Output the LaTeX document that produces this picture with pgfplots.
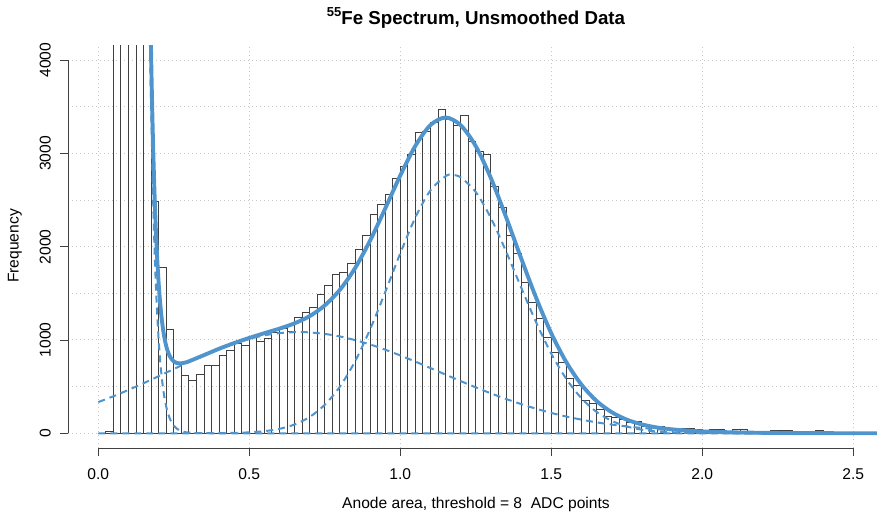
\documentclass[border=0pt]{standalone}
\usepackage{fontspec}
\setmainfont{Liberation Sans}
\usepackage{pgfplots}
\pgfplotsset{compat=1.18}
\definecolor{fitblue}{HTML}{4F94CD}
\definecolor{barline}{HTML}{404040}
\definecolor{gridgray}{HTML}{C8C8C8}
\definecolor{axisgray}{HTML}{404040}

\begin{document}
\begin{tikzpicture}
\useasboundingbox (0,0) rectangle (877pt,520pt);
\begin{axis}[
  at={(68.1pt,71.8pt)}, anchor=south west,
  scale only axis, width=815.4pt, height=403pt,
  xmin=-0.1, xmax=2.6, ymin=-160, ymax=4160,
  axis line style={draw=none},
  tick style={draw=none},
  major tick length=0pt,
  xtick={0,0.5,1,1.5,2,2.5}, ytick={0,500,...,4000},
  xticklabels={}, yticklabels={},
  grid=major,
  grid style={gridgray, line width=1pt, dash pattern=on 1.3pt off 2.7pt},
]
% histogram, bin width 0.025
\addplot[ybar interval, draw=barline, fill=none, line width=1pt] coordinates {
(0.000,0)(0.025,17)(0.050,9000)(0.075,9000)(0.100,9000)(0.125,9000)(0.150,9000)
(0.175,2482)(0.200,1779)(0.225,1116)(0.250,757)(0.275,614)(0.300,571)(0.325,632)
(0.350,725)(0.375,725)(0.400,839)(0.425,882)(0.450,964)(0.475,940)(0.500,1036)
(0.525,982)(0.550,1018)(0.575,1080)(0.600,1120)(0.625,1089)(0.650,1245)(0.675,1293)
(0.700,1350)(0.725,1486)(0.750,1580)(0.775,1705)(0.800,1721)(0.825,1822)(0.850,1972)
(0.875,2125)(0.900,2350)(0.925,2447)(0.950,2561)(0.975,2733)(1.000,2858)(1.025,2983)
(1.050,3222)(1.075,3240)(1.100,3329)(1.125,3472)(1.150,3365)(1.175,3304)(1.200,3404)
(1.225,3125)(1.250,3018)(1.275,2983)(1.300,2643)(1.325,2422)(1.350,2115)(1.375,1922)
(1.400,1618)(1.425,1404)(1.450,1229)(1.475,1025)(1.500,870)(1.525,760)(1.550,589)
(1.575,507)(1.600,350)(1.625,314)(1.650,250)(1.675,178)(1.700,168)(1.725,150)
(1.750,114)(1.775,125)(1.800,78)(1.825,71)(1.850,71)(1.875,43)(1.900,43)(1.925,53)
(1.950,46)(1.975,36)(2.000,32)(2.025,36)(2.050,36)(2.075,20)(2.100,36)(2.125,36)
(2.150,15)(2.175,12)(2.200,15)(2.225,33)(2.250,33)(2.275,33)(2.300,12)(2.325,10)
(2.350,8)(2.375,30)(2.400,8)(2.425,6)(2.450,5)(2.475,4)(2.500,4)
};
% noise component
\addplot[fitblue, line width=2pt, dash pattern=on 7pt off 5pt] coordinates {
(0.14,19870)(0.15,12050)(0.16,7310)(0.165,5694)(0.17,4434)(0.175,3453)(0.18,2689)
(0.185,2094)(0.19,1631)(0.195,1270)(0.2,989)(0.205,770)(0.21,600)(0.215,467)
(0.22,364)(0.225,283)(0.23,221)(0.235,172)(0.24,134)(0.25,81)(0.26,49)(0.27,30)
(0.28,18)(0.29,11)(0.3,6.7)(0.32,2.5)(0.35,0.5)(0.4,0)(2.6,0)
};
% broad component
\addplot[fitblue, line width=2pt, dash pattern=on 7pt off 5pt, smooth] coordinates {
(0,334)(0.05,397)(0.1,465)(0.15,537)(0.2,612)(0.25,689)(0.3,764)(0.35,837)(0.4,904)
(0.45,963)(0.5,1012)(0.55,1050)(0.6,1074)(0.66,1085)(0.7,1081)(0.75,1065)(0.8,1038)
(0.85,999)(0.9,952)(0.95,896)(1.0,834)(1.05,768)(1.1,699)(1.15,629)(1.2,559)
(1.25,492)(1.3,428)(1.35,368)(1.4,313)(1.45,263)(1.5,218)(1.55,179)(1.6,146)
(1.65,117)(1.7,93)(1.75,73)(1.8,57)(1.85,43)(1.9,33)(1.95,25)(2.0,18)(2.1,10)
(2.2,5)(2.3,2.4)(2.4,1.1)(2.5,0.5)(2.6,0.2)
};
% main peak component
\addplot[fitblue, line width=2pt, dash pattern=on 7pt off 5pt, smooth] coordinates {
(0,0)(0.1,0)(0.2,0)(0.3,0.3)(0.4,1.7)(0.45,4.2)(0.5,10.1)(0.55,22.7)(0.6,47.7)
(0.65,94.3)(0.7,175)(0.75,306)(0.8,500)(0.85,770)(0.9,1114)(0.95,1513)(1.0,1930)
(1.05,2314)(1.1,2605)(1.15,2756)(1.17,2770)(1.2,2743)(1.25,2585)(1.3,2307)
(1.35,1951)(1.4,1564)(1.45,1187)(1.5,853)(1.55,581)(1.6,375)(1.65,229)(1.7,133)
(1.75,72.9)(1.8,37.9)(1.85,18.7)(1.9,8.7)(1.95,3.9)(2.0,1.6)(2.1,0.2)(2.2,0)(2.6,0)
};
% total fit
\addplot[fitblue, line width=3.9pt, smooth, line join=round] coordinates {
(0.14,20392)(0.15,12587)(0.16,7862)(0.165,6254)(0.17,5001)(0.175,4028)(0.18,3271)
(0.185,2684)(0.19,2228)(0.195,1875)(0.2,1601)(0.205,1390)(0.21,1227)(0.215,1102)
(0.22,1007)(0.225,933)(0.23,879)(0.235,838)(0.24,808)(0.25,770)(0.26,753)(0.27,749)
(0.28,752)(0.29,760)(0.3,771)(0.35,838)(0.4,906)(0.45,967)(0.5,1022)(0.55,1073)
(0.6,1122)(0.65,1179)(0.7,1256)(0.75,1371)(0.8,1538)(0.85,1769)(0.9,2066)
(0.95,2409)(1.0,2764)(1.05,3082)(1.1,3304)(1.15,3385)(1.2,3302)(1.25,3077)
(1.3,2735)(1.35,2319)(1.4,1877)(1.45,1450)(1.5,1071)(1.55,760)(1.6,521)(1.65,346)
(1.7,226)(1.75,146)(1.8,95)(1.85,62)(1.9,42)(1.95,29)(2.0,20)(2.1,10)(2.2,5)
(2.3,2.4)(2.4,1.1)(2.5,0.5)(2.6,0.2)
};
\end{axis}
% R-style axes, drawn in page coordinates (x: 98.3pt + 302pt per unit; y: 86.73pt + 93.29pt per 1000)
\draw[axisgray, line width=0.9pt] (68.1pt,86.73pt) -- (68.1pt,459.9pt);
\draw[axisgray, line width=0.9pt] (98.3pt,71.8pt) -- (853.3pt,71.8pt);
\foreach \v/\yy in {0/86.73, 1000/180.02, 2000/273.31, 3000/366.6, 4000/459.9}{
  \draw[axisgray, line width=0.9pt] (68.1pt,\yy pt) -- (60.1pt,\yy pt);
  \node[rotate=90, anchor=base, inner sep=0pt, font=\fontsize{15.6}{18}\selectfont]
    at (50.6pt,\yy pt) {\v};
}
\foreach \lab/\xx in {0.0/98.3, 0.5/249.3, 1.0/400.3, 1.5/551.3, 2.0/702.3, 2.5/853.3}{
  \draw[axisgray, line width=0.9pt] (\xx pt,71.8pt) -- (\xx pt,63.8pt);
  \node[anchor=base, inner sep=0pt, font=\fontsize{15.6}{18}\selectfont]
    at (\xx pt,40.4pt) {\lab};
}
\node[anchor=base, inner sep=0pt, font=\fontsize{18.7}{22}\selectfont\bfseries]
  at (476pt,495pt) {\raisebox{8pt}{\fontsize{13}{13}\selectfont 55}Fe Spectrum, Unsmoothed Data};
\node[anchor=base, inner sep=0pt, font=\fontsize{15.6}{18}\selectfont]
  at (476pt,11.5pt) {Anode area, threshold = 8\ \ ADC points};
\node[rotate=90, inner sep=0pt, font=\fontsize{15.6}{18}\selectfont]
  at (15pt,274pt) {Frequency};
\end{tikzpicture}
\end{document}
